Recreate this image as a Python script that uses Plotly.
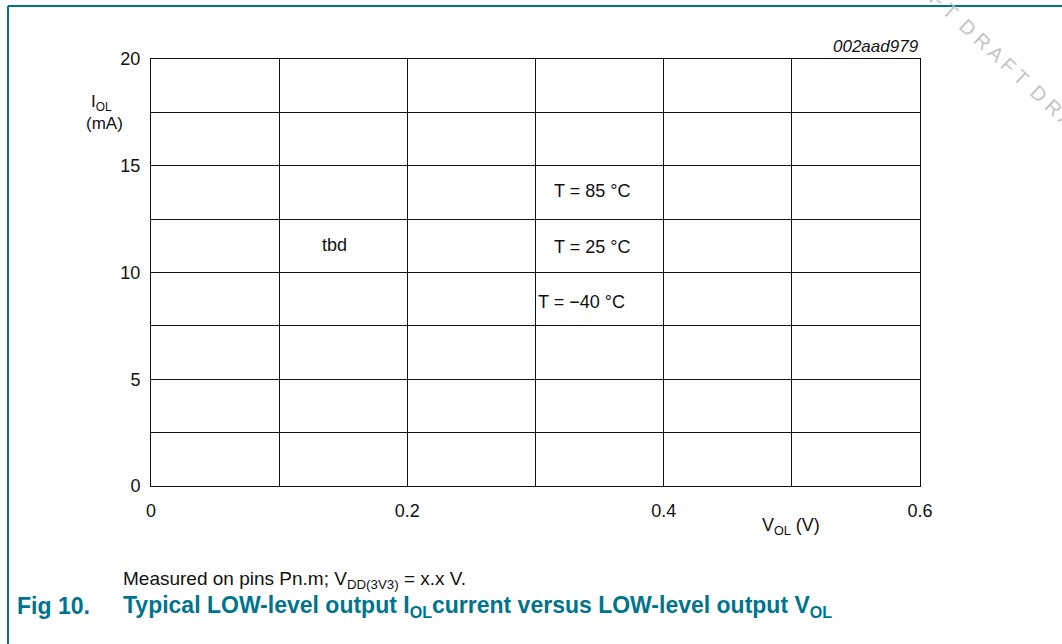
import plotly.graph_objects as go

# ---- data ----
x_tick_vals = [0, 0.2, 0.4, 0.6]
x_tick_text = ["0", "0.2", "0.4", "0.6"]
y_tick_vals = [0, 5, 10, 15, 20]
y_tick_text = ["0", "5", "10", "15", "20"]
x_range = [0, 0.6]
y_range = [0, 20]
x_minor_step = 0.1
y_minor_step = 2.5

curve_labels = ["T = 85 °C", "T = 25 °C", "T = \u221240 °C", "tbd"]
curve_label_x = [0.344, 0.344, 0.336, 0.1435]
curve_label_y = [13.8, 11.2, 8.62, 11.28]

W, H = 1062, 644
TEAL = "#00748d"
FONT = "Liberation Sans, Arial, sans-serif"
FS = 18

def px(x):
    return x / W

def py(y):
    return 1 - y / H

def label(x, y, text, size, xanchor="center", color="#111", **kw):
    return dict(x=px(x), y=py(y), xref="paper", yref="paper", text=text,
                showarrow=False, xanchor=xanchor, yanchor="middle",
                font=dict(family=FONT, size=size, color=color), **kw)

fig = go.Figure()
fig.add_trace(go.Scatter(x=x_range, y=y_range, mode="markers",
                         marker=dict(opacity=0), hoverinfo="skip", showlegend=False))

ann = []
for t, xx, yy in zip(curve_labels, curve_label_x, curve_label_y):
    ann.append(dict(x=xx, y=yy, xref="x", yref="y", text=t, showarrow=False,
                    xanchor="center", yanchor="middle",
                    font=dict(family=FONT, size=FS, color="#111")))

ann += [
    label(101, 103, "I<sub>OL</sub>", 17),
    label(104, 123, "(mA)", 17),
    label(791, 526, "V<sub>OL</sub> (V)", FS),
    label(921, 47, "<i>002aad979</i>", 17, xanchor="right"),
    label(121, 580, "Measured on pins Pn.m; V<sub>DD(3V3)</sub> = x.x V.", 19, xanchor="left"),
    label(15, 606, "<b>Fig 10.</b>", 23, xanchor="left", color=TEAL),
    label(121, 606, "<b>Typical LOW-level output I<sub>OL</sub>current versus LOW-level output V<sub>OL</sub></b>",
          23, xanchor="left", color=TEAL),
    label(994, 52, "D R A F T  D R A F T  D R A F T", 20, color="#c4c4c4", textangle=43),
]

shapes = [
    dict(type="line", xref="paper", yref="paper", x0=px(8), y0=py(6), x1=px(1070), y1=py(6),
         line=dict(color=TEAL, width=2)),
    dict(type="line", xref="paper", yref="paper", x0=px(8), y0=py(6), x1=px(8), y1=py(650),
         line=dict(color=TEAL, width=2)),
]

axis_common = dict(showgrid=True, gridcolor="#111", gridwidth=1,
                   showline=True, linecolor="#111", linewidth=1, mirror=True,
                   ticks="outside", tickcolor="rgba(0,0,0,0)",
                   zeroline=False, fixedrange=True, automargin=False,
                   tickfont=dict(family=FONT, size=FS, color="#111"))

fig.update_layout(
    width=W, height=H,
    margin=dict(l=0, r=0, t=0, b=0, pad=0),
    paper_bgcolor="white", plot_bgcolor="white",
    annotations=ann, shapes=shapes,
    font=dict(family=FONT, size=FS, color="#111"),
    xaxis=dict(domain=[px(151), px(920)], range=x_range, tickvals=x_tick_vals,
               ticktext=x_tick_text, ticklen=8,
               minor=dict(dtick=x_minor_step, showgrid=True, gridcolor="#111", gridwidth=1),
               **axis_common),
    yaxis=dict(domain=[py(486), py(59)], range=y_range, tickvals=y_tick_vals,
               ticktext=y_tick_text, ticklen=6,
               minor=dict(dtick=y_minor_step, showgrid=True, gridcolor="#111", gridwidth=1),
               **axis_common),
)

fig.write_html("out.html", config=dict(displayModeBar=False),
               post_script="document.body.style.margin='0';document.body.style.overflow='hidden';")
